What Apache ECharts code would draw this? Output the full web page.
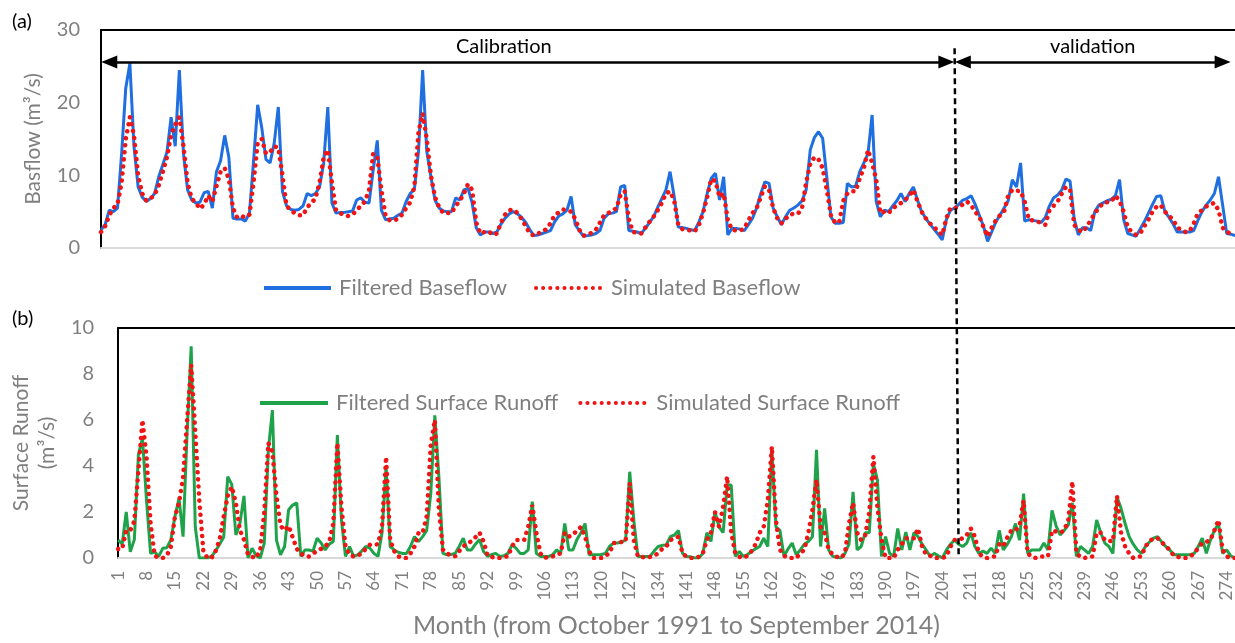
<!DOCTYPE html>
<html>
<head>
<meta charset="utf-8">
<script src="https://cdn.jsdelivr.net/npm/echarts/dist/echarts.min.js"></script>
<style>
  html, body { margin: 0; padding: 0; background: #fff; }
  #main { width: 1235px; height: 643px; }
</style>
</head>
<body>
<div id="main"></div>
<script>
// months 1..276 (Oct 1991 - Sep 2014)
var months = [];
for (var i = 1; i <= 276; i++) months.push(String(i));

// (a) baseflow, m3/s
var baseFiltered = [
  2.5, 3.2, 5.2, 5.0, 5.5, 13, 22, 25.4, 14, 8.4,
  7.0, 6.4, 6.8, 7.5, 9.8, 11.5, 13.2, 18, 14, 24.5,
  13, 8, 6.6, 6.2, 6.3, 7.6, 7.8, 5.5, 10.5, 12,
  15.5, 12.5, 4.1, 4.0, 4.0, 3.7, 4.8, 12, 19.7, 16.5,
  12.2, 11.7, 14.4, 19.4, 7.8, 5.8, 5.3, 5.2, 5.3, 5.8,
  7.5, 7.2, 7.5, 8.4, 11.7, 19.4, 6.2, 4.8, 4.9, 4.9,
  5.0, 5.1, 6.6, 6.9, 6.3, 6.2, 10.7, 14.8, 5.2, 3.9,
  4.0, 4.1, 4.5, 4.8, 6.4, 7.5, 8.1, 13.3, 24.5, 13.3,
  9.8, 6.6, 5.5, 5.1, 5.0, 5.0, 6.9, 6.6, 8.0, 8.2,
  6.2, 2.8, 1.8, 2.2, 2.2, 2.0, 2.2, 3.3, 4.1, 4.7,
  5.0, 4.7, 4.2, 3.5, 2.5, 1.7, 1.8, 2.0, 2.2, 2.4,
  3.6, 4.4, 4.7, 5.2, 7.1, 3.2, 2.4, 1.6, 1.7, 1.8,
  2.0, 2.4, 4.1, 4.7, 4.8, 5.0, 8.4, 8.6, 2.4, 2.3,
  2.2, 2.0, 2.7, 3.5, 4.3, 5.6, 6.8, 8.0, 10.5, 7.1,
  2.9, 2.8, 2.7, 2.5, 2.4, 3.6, 5.0, 7.5, 9.6, 10.3,
  6.6, 9.8, 1.8, 2.7, 2.7, 2.6, 2.4, 3.2, 4.1, 5.5,
  7.5, 9.1, 8.9, 5.5, 4.3, 3.2, 4.3, 5.2, 5.5, 5.9,
  6.5, 8.0, 13.5, 15.2, 16.0, 15.1, 9.8, 4.3, 3.4, 3.4,
  3.5, 8.9, 8.4, 8.5, 10.5, 11.7, 13, 18.3, 6.4, 4.3,
  5.2, 5.0, 5.8, 6.5, 7.5, 6.4, 7.5, 8.4, 6.6, 5.0,
  4.1, 3.3, 2.6, 1.9, 1.1, 3.9, 5.2, 5.5, 6.0, 6.6,
  6.8, 7.2, 6.0, 4.5, 3.0, 0.9, 2.2, 3.6, 4.5, 5.5,
  6.5, 9.4, 8.4, 11.7, 3.7, 3.9, 3.8, 3.7, 3.5, 4.2,
  5.8, 6.9, 7.3, 8.0, 9.5, 9.2, 4.0, 1.8, 2.8, 2.8,
  2.4, 5.0, 5.9, 6.2, 6.5, 6.7, 7.2, 9.4, 3.9, 2.0,
  1.8, 1.6, 2.6, 3.6, 4.8, 6.0, 7.1, 7.2, 5.0, 4.2,
  3.3, 2.2, 2.2, 2.2, 2.2, 2.4, 3.8, 5.0, 5.9, 6.6,
  7.5, 9.8, 5.9, 2.0, 1.9, 1.7
];
var baseSimulated = [
  2.2, 3.0, 4.5, 5.5, 6.0, 9, 15, 18, 15.5, 10,
  7.5, 6.5, 6.8, 7.3, 8.6, 10.5, 12.5, 15.5, 17, 18,
  14, 9, 6.8, 6.2, 5.4, 6.0, 7.2, 6.4, 8.5, 10.5,
  11.0, 9.5, 5.5, 4.2, 4.4, 4.2, 4.6, 9, 14.5, 15,
  13, 13.2, 14, 13.8, 10, 5.8, 5.2, 4.8, 4.5, 4.5,
  5.6, 6.2, 6.8, 9, 12.5, 13.5, 9, 5.2, 4.8, 4.5,
  4.4, 4.6, 5.2, 5.8, 6.4, 8, 13, 12.5, 8, 4.5,
  3.8, 3.8, 4.0, 4.6, 5.5, 6.3, 8.5, 16, 18.5, 15,
  10, 7, 5.6, 4.8, 4.8, 4.8, 5.8, 6.5, 7.5, 8.8,
  8, 3.5, 2.0, 2.2, 2.3, 1.8, 2.0, 3.5, 4.6, 5.2,
  5.3, 4.8, 4.0, 3.0, 2.0, 1.7, 2.0, 2.2, 2.6, 3.4,
  4.5, 4.9, 5.3, 5.2, 5.0, 4.0, 2.5, 1.7, 1.8, 2.1,
  2.5, 3.5, 4.5, 4.8, 5.1, 5.5, 7.3, 7.8, 4.0, 2.2,
  2.1, 2.0, 2.8, 3.6, 4.3, 5.2, 6.2, 7.5, 7.8, 6.5,
  3.2, 2.6, 2.5, 2.4, 2.3, 3.2, 4.8, 7.0, 9.5, 9.2,
  7.0, 7.5, 3.9, 2.5, 2.4, 2.4, 2.7, 3.8, 4.8, 5.5,
  7.0, 8.5, 8.0, 5.5, 4.1, 3.4, 4.0, 4.6, 4.7, 4.7,
  5.5, 9.0, 11.6, 12.5, 12.2, 11.0, 8.0, 4.5, 3.5, 3.5,
  6.5, 7.5, 7.8, 7.8, 9.6, 11.0, 13.5, 11.7, 9.4, 4.8,
  5.0, 4.8, 5.5, 5.8, 6.2, 6.6, 7.2, 8.0, 6.4, 5.0,
  4.1, 3.4, 2.9, 2.3, 1.8, 4.1, 5.5, 5.5, 5.6, 6.0,
  6.4, 5.9, 5.0, 4.3, 2.9, 1.6, 2.8, 3.8, 4.5, 5.0,
  7.2, 8.0, 7.9, 7.8, 6.4, 3.9, 3.8, 3.7, 3.4, 3.2,
  5.2, 5.8, 6.4, 7.5, 8.4, 8.0, 3.2, 2.5, 2.2, 2.9,
  3.8, 4.8, 5.5, 6.2, 6.3, 6.4, 7.2, 6.5, 5.0, 2.8,
  2.2, 1.8, 2.0, 3.0, 3.9, 5.0, 5.7, 5.9, 5.0, 4.4,
  3.9, 2.8, 2.5, 2.2, 2.3, 3.4, 4.8, 5.2, 5.7, 6.0,
  6.2, 5.2, 2.8, 2.2, 2.0, 1.9
];

// (b) surface runoff, m3/s
var runoffFiltered = [
  0.78, 0.6, 2.0, 0.27, 0.8, 4.5, 5.2, 2.5, 0.2, 0.27,
  0.07, 0.42, 0.45, 0.8, 1.8, 2.6, 0.93, 5.5, 9.2, 1.36,
  0, 0, 0, 0.07, 0.3, 0.6, 0.9, 3.54, 3.2, 1.0,
  1.5, 2.7, 0, 0.42, 0.1, 0, 0.65, 4.7, 6.43, 0.78,
  0.14, 0.5, 2.1, 2.3, 2.4, 0.07, 0.35, 0.35, 0.3, 0.86,
  0.65, 0.35, 0.6, 0.72, 5.35, 1.65, 0.07, 0.5, 0.07, 0.14,
  0.3, 0.5, 0.43, 0.2, 0.07, 1.1, 3.97, 0.5, 0.35, 0.25,
  0.2, 0.2, 0.5, 0.93, 0.72, 0.93, 1.2, 2.8, 6.2, 3.54,
  0.2, 0.14, 0.15, 0.2, 0.5, 0.86, 0.35, 0.35, 0.6, 0.8,
  0.28, 0.07, 0.15, 0.2, 0.07, 0.1, 0.2, 0.57, 0.43, 0.2,
  0.2, 0.35, 2.45, 0.2, 0.07, 0.07, 0.07, 0.14, 0.35, 0.2,
  1.5, 0.35, 0.35, 0.8, 1.1, 1.5, 0.14, 0.14, 0.14, 0.15,
  0.2, 0.5, 0.65, 0.65, 0.7, 0.78, 3.75, 1.65, 0.07, 0.07,
  0.07, 0.07, 0.3, 0.5, 0.55, 0.57, 0.93, 1.0, 1.2, 0.2,
  0.07, 0.05, 0, 0, 0.2, 1.1, 0.72, 2.0, 1.35, 1.1,
  3.17, 3.17, 0.07, 0.28, 0.07, 0.15, 0.28, 0.4, 0.5, 0.86,
  0.5, 4.77, 1.35, 1.2, 0.07, 0.4, 0.65, 0.14, 0.35, 0.6,
  0.72, 0.93, 4.7, 0.5, 2.16, 0.35, 0.07, 0.03, 0, 0.2,
  0.6, 2.88, 0.35, 0.5, 1.1, 1.1, 4.1, 3.4, 0.07, 0.93,
  0.2, 0.07, 1.28, 0.35, 1.13, 0.35, 1.1, 0.93, 0.6, 0.35,
  0.07, 0.2, 0.1, 0, 0.35, 0.6, 0.78, 0.6, 0.5, 0.65,
  1.1, 0.5, 0.2, 0.3, 0.2, 0.43, 0.2, 1.2, 0.35, 0.6,
  0.93, 1.5, 0.78, 2.8, 0.2, 0.35, 0.35, 0.35, 0.65, 0.35,
  2.07, 1.4, 1.0, 1.2, 1.43, 2.4, 0.07, 0.5, 0.35, 0.2,
  0.5, 1.65, 1.1, 0.65, 0.5, 0.2, 2.65, 2.16, 1.5, 0.93,
  0.6, 0.35, 0.2, 0.5, 0.7, 0.86, 0.93, 0.7, 0.5, 0.35,
  0.14, 0.14, 0.14, 0.14, 0.14, 0.2, 0.5, 0.86, 0.2, 0.78,
  1.2, 1.5, 0.2, 0.35, 0.1, 0
];
var runoffSimulated = [
  0.39, 0.39, 1.2, 1.2, 1.6, 3.8, 6.0, 4.4, 1.5, 0.1,
  0, 0, 0.1, 0.5, 1.8, 2.4, 3.5, 6.0, 8.4, 5.5,
  2.5, 0.3, 0, 0, 0.3, 0.8, 1.8, 2.7, 3.1, 2.4,
  1.2, 0.8, 0.14, 0.05, 0, 0.36, 2.0, 5.0, 4.6, 2.7,
  1.4, 1.2, 1.4, 0.9, 0.4, 0.2, 0.07, 0.07, 0.2, 0.3,
  0.4, 0.5, 0.7, 1.5, 5.0, 2.23, 0.5, 0.14, 0.07, 0.1,
  0.2, 0.4, 0.57, 0.57, 0.6, 1.36, 4.4, 0.8, 0.3, 0.07,
  0, 0, 0.2, 0.5, 1.1, 1.1, 1.8, 4.9, 6.0, 2.1,
  0.36, 0.2, 0.1, 0.07, 0.3, 0.5, 0.65, 0.72, 0.9, 1.1,
  0.72, 0.1, 0.05, 0, 0, 0.05, 0.07, 0.5, 0.78, 0.78,
  0.78, 1.35, 2.3, 1.1, 0.2, 0, 0.05, 0.07, 0.15, 0.2,
  1.1, 0.93, 1.0, 1.2, 1.35, 0.93, 0.3, 0, 0, 0,
  0.1, 0.2, 0.65, 0.65, 0.7, 0.72, 3.25, 0.78, 0.07, 0.05,
  0, 0.05, 0.1, 0.2, 0.4, 0.5, 0.78, 0.85, 0.93, 0.2,
  0.05, 0, 0, 0.05, 0.2, 0.8, 1.1, 2.0, 1.35, 2.23,
  3.54, 1.1, 0.2, 0.05, 0, 0.1, 0.3, 0.6, 1.1, 1.35,
  2.5, 4.84, 1.65, 0.36, 0.1, 0, 0, 0, 0.2, 0.36,
  1.1, 2.1, 3.4, 1.35, 1.1, 0.36, 0.14, 0.05, 0, 0.2,
  1.5, 2.4, 1.1, 0.78, 1.0, 2.0, 4.4, 2.2, 0.8, 0,
  0, 0, 0.36, 0.6, 0.86, 0.86, 0.86, 1.28, 0.5, 0.14,
  0.1, 0, 0, 0, 0.07, 0.5, 0.78, 0.8, 0.86, 1.0,
  1.28, 0.93, 0.2, 0.05, 0, 0.05, 0.07, 0.6, 0.5, 0.9,
  1.2, 1.2, 1.4, 2.5, 0.2, 0.05, 0, 0.07, 0.07, 0.07,
  1.2, 1.15, 1.1, 1.2, 1.65, 3.33, 0.2, 0.05, 0, 0.05,
  0.07, 1.1, 1.1, 0.78, 0.75, 0.72, 2.7, 1.1, 0.5, 0.2,
  0, 0.05, 0.07, 0.5, 0.72, 0.86, 0.86, 0.7, 0.5, 0.36,
  0.1, 0.05, 0, 0, 0.07, 0.2, 0.43, 0.65, 0.7, 0.78,
  1.2, 1.65, 0.36, 0.07, 0, 0
];

// calibration / validation split
var splitMonth = '208';
var arrowLevel = 25.6;
var calibRange = ['3', '206'];
var validRange = ['210', '273'];

var gray = '#7f7f7f';
var font = 'Lato';
var chart = echarts.init(document.getElementById('main'));

function frameAxis(grid) {
  return {
    type: 'category', gridIndex: grid, position: 'top', data: months, boundaryGap: false,
    axisLine: {lineStyle: {color: '#000', width: 2}},
    axisTick: {show: false}, axisLabel: {show: false}
  };
}

var option = {
  animation: false,
  textStyle: {fontFamily: font},
  title: [
    {text: '(a)', left: 7, top: 7, textStyle: {fontSize: 20, fontWeight: 'normal', color: '#000', fontFamily: font}},
    {text: '(b)', left: 7, top: 304, textStyle: {fontSize: 20, fontWeight: 'normal', color: '#000', fontFamily: font}}
  ],
  grid: [
    {left: 101, right: 0, top: 30, height: 218},
    {left: 101, right: 0, top: 328, height: 230}
  ],
  legend: [
    {
      data: ['Filtered Baseflow', 'Simulated Baseflow'],
      left: 257, top: 272, itemWidth: 67, itemHeight: 14, itemGap: 27,
      itemStyle: {opacity: 0}, lineStyle: {width: 4},
      textStyle: {color: gray, fontSize: 22, padding: [0, 0, 0, 3]}
    },
    {
      data: ['Filtered Surface Runoff', 'Simulated Surface Runoff'],
      left: 253, top: 387, itemWidth: 68, itemHeight: 14, itemGap: 20,
      itemStyle: {opacity: 0}, lineStyle: {width: 4},
      textStyle: {color: gray, fontSize: 22, padding: [0, 0, 0, 3]}
    }
  ],
  xAxis: [
    {
      type: 'category', gridIndex: 0, data: months, boundaryGap: false,
      axisLine: {lineStyle: {color: '#d9d9d9', width: 2}},
      axisTick: {show: false}, axisLabel: {show: false}
    },
    frameAxis(0),
    {
      type: 'category', gridIndex: 1, data: months, boundaryGap: false,
      name: 'Month (from October 1991 to September 2014)',
      nameLocation: 'middle', nameGap: 55,
      nameTextStyle: {color: gray, fontSize: 25},
      axisLine: {lineStyle: {color: '#d9d9d9', width: 2}},
      axisTick: {show: false},
      axisLabel: {interval: 6, rotate: 90, color: gray, fontSize: 17, margin: 13}
    },
    frameAxis(1)
  ],
  yAxis: [
    {
      type: 'value', gridIndex: 0, min: 0, max: 30, interval: 10,
      name: 'Basflow (m\u00b3/s)', nameLocation: 'middle', nameGap: 57,
      nameTextStyle: {color: gray, fontSize: 21},
      axisLine: {show: true, lineStyle: {color: '#000', width: 2}},
      axisTick: {show: false}, splitLine: {show: false},
      axisLabel: {color: gray, fontSize: 20, margin: 21}
    },
    {
      type: 'value', gridIndex: 1, min: 0, max: 10, interval: 2,
      name: 'Surface Runoff\n(m\u00b3/s)', nameLocation: 'middle', nameGap: 45,
      nameTextStyle: {color: gray, fontSize: 21, lineHeight: 26},
      axisLine: {show: true, lineStyle: {color: '#000', width: 2}},
      axisTick: {show: false}, splitLine: {show: false},
      axisLabel: {color: gray, fontSize: 20, margin: 24}
    }
  ],
  series: [
    {
      name: 'Filtered Baseflow', type: 'line', xAxisIndex: 0, yAxisIndex: 0,
      data: baseFiltered, symbol: 'none',
      lineStyle: {color: '#1f6fe0', width: 3}, itemStyle: {color: '#1f6fe0'},
      markLine: {
        silent: true, symbol: ['triangle', 'triangle'], symbolSize: [13, 16],
        lineStyle: {color: '#000', width: 2.5, type: 'solid'},
        label: {position: 'middle', color: '#000', fontSize: 20, distance: 5},
        data: [
          [{coord: [calibRange[0], arrowLevel], name: 'Calibration', label: {padding: [0, 48, 0, 0]}},
           {coord: [calibRange[1], arrowLevel]}],
          [{coord: [validRange[0], arrowLevel], name: 'validation'}, {coord: [validRange[1], arrowLevel]}]
        ],
        itemStyle: {color: '#000'}
      }
    },
    {
      name: 'Simulated Baseflow', type: 'line', xAxisIndex: 0, yAxisIndex: 0,
      data: baseSimulated, symbol: 'none',
      lineStyle: {color: '#f01414', width: 4.5, type: [0.1, 7], cap: 'round'},
      itemStyle: {color: '#f01414'}
    },
    {
      name: 'Filtered Surface Runoff', type: 'line', xAxisIndex: 2, yAxisIndex: 1,
      data: runoffFiltered, symbol: 'none',
      lineStyle: {color: '#1ea34a', width: 3}, itemStyle: {color: '#1ea34a'}
    },
    {
      name: 'Simulated Surface Runoff', type: 'line', xAxisIndex: 2, yAxisIndex: 1,
      data: runoffSimulated, symbol: 'none',
      lineStyle: {color: '#f01414', width: 4.5, type: [0.1, 7], cap: 'round'},
      itemStyle: {color: '#f01414'}
    }
  ]
};
chart.setOption(option);

// dashed split line running through both panels
var topPt = chart.convertToPixel({gridIndex: 0}, [splitMonth, 27.5]);
var botPt = chart.convertToPixel({gridIndex: 1}, [splitMonth, 0]);
chart.setOption({
  graphic: [{
    type: 'line', z: 100, silent: true,
    shape: {x1: topPt[0], y1: topPt[1], x2: botPt[0], y2: botPt[1]},
    style: {stroke: '#000', lineWidth: 2.5, lineDash: [6, 4]}
  }]
});
</script>
</body>
</html>
